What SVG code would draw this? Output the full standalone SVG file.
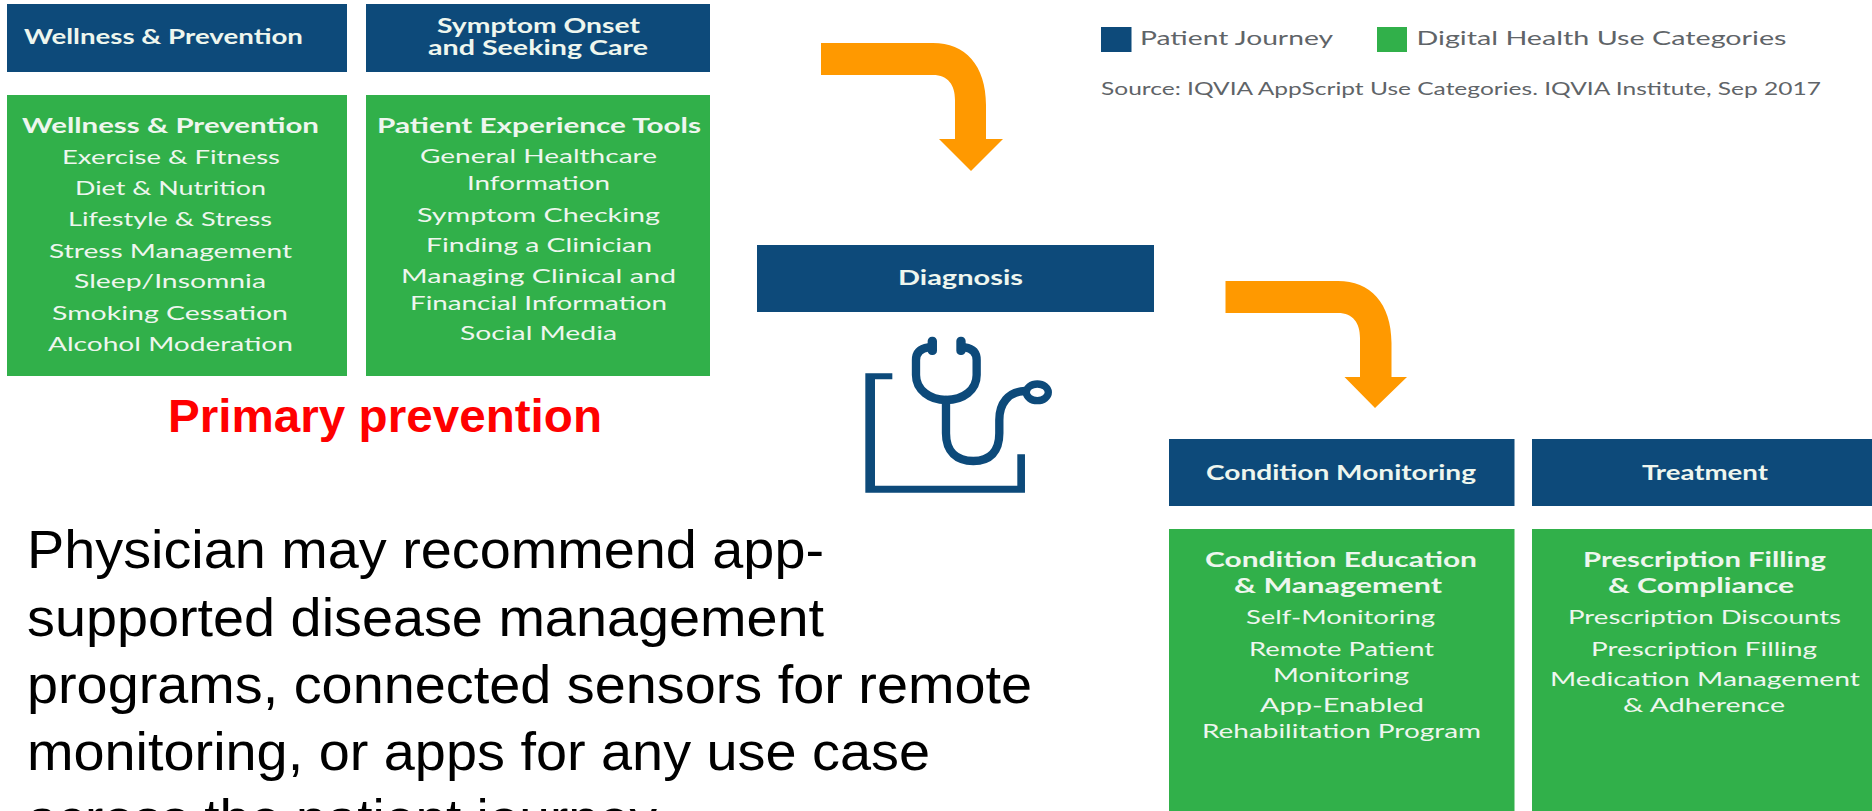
<svg xmlns="http://www.w3.org/2000/svg" width="1872" height="811" viewBox="0 0 1872 811">
<style>
.navy{fill:#0d4a7a}
.green{fill:#31b04a}
text{font-family:Lato,"Liberation Sans",sans-serif;fill:#eef6ee}
.h{font-weight:700;font-size:20.500px}
.b{font-size:20px;font-weight:400}
.leg{font-size:20px;fill:#5f6468}
.src{font-size:17px;fill:#5f6468}
.ar{font-family:"Liberation Sans",Arial,sans-serif}
.red{font-weight:700;font-size:47px;fill:#ff0000}
.para{font-size:54px;fill:#000}
.arrow{fill:#ff9900}
.st{fill:none;stroke:#0d4a7a;stroke-width:25;stroke-linecap:round}
</style>
<rect width="1872" height="811" fill="#fff"/>
<g id="connectors">
<path class="arrow" d="M821 43H933C965 43 986 65 986 105V139H1003L971 171L939 139H955V100C955 85 948 75 933 75H821Z"/>
<path class="arrow" d="M1225.500 281H1338C1370 281 1391.500 303 1391.500 343V377H1407L1375 408L1344.500 377H1360V338C1360 323 1353 313 1338 313H1225.500Z"/>
</g>
<g id="node-wellness-header">
<rect class="navy" x="7" y="4" width="340" height="68"/>
<text class="h" x="24" y="44" textLength="279" lengthAdjust="spacingAndGlyphs">Wellness &amp; Prevention</text>
</g>
<g id="node-symptom-header">
<rect class="navy" x="366" y="4" width="344" height="68"/>
<text class="h" x="437" y="33" textLength="203" lengthAdjust="spacingAndGlyphs">Symptom Onset</text>
<text class="h" x="428" y="55" textLength="220" lengthAdjust="spacingAndGlyphs">and Seeking Care</text>
</g>
<g id="node-wellness-tools">
<rect class="green" x="7" y="95" width="340" height="281"/>
<text class="h" x="22" y="133" textLength="297" lengthAdjust="spacingAndGlyphs">Wellness &amp; Prevention</text>
<text class="b" x="62" y="164" textLength="218" lengthAdjust="spacingAndGlyphs">Exercise &amp; Fitness</text>
<text class="b" x="75" y="195" textLength="191" lengthAdjust="spacingAndGlyphs">Diet &amp; Nutrition</text>
<text class="b" x="68" y="226" textLength="204" lengthAdjust="spacingAndGlyphs">Lifestyle &amp; Stress</text>
<text class="b" x="49" y="258" textLength="243" lengthAdjust="spacingAndGlyphs">Stress Management</text>
<text class="b" x="74" y="288" textLength="192" lengthAdjust="spacingAndGlyphs">Sleep/Insomnia</text>
<text class="b" x="52" y="320" textLength="236" lengthAdjust="spacingAndGlyphs">Smoking Cessation</text>
<text class="b" x="48" y="351" textLength="245" lengthAdjust="spacingAndGlyphs">Alcohol Moderation</text>
</g>
<g id="node-patient-tools">
<rect class="green" x="366" y="95" width="344" height="281"/>
<text class="h" x="377" y="133" textLength="324" lengthAdjust="spacingAndGlyphs">Patient Experience Tools</text>
<text class="b" x="420" y="163" textLength="237" lengthAdjust="spacingAndGlyphs">General Healthcare</text>
<text class="b" x="467" y="190" textLength="143" lengthAdjust="spacingAndGlyphs">Information</text>
<text class="b" x="417" y="222" textLength="243" lengthAdjust="spacingAndGlyphs">Symptom Checking</text>
<text class="b" x="426" y="252" textLength="226" lengthAdjust="spacingAndGlyphs">Finding a Clinician</text>
<text class="b" x="401" y="283" textLength="275" lengthAdjust="spacingAndGlyphs">Managing Clinical and</text>
<text class="b" x="410" y="310" textLength="257" lengthAdjust="spacingAndGlyphs">Financial Information</text>
<text class="b" x="460" y="340" textLength="157" lengthAdjust="spacingAndGlyphs">Social Media</text>
</g>
<g id="label-primary">
<text class="ar red" x="168" y="432" textLength="434" lengthAdjust="spacingAndGlyphs">Primary prevention</text>
</g>
<g id="label-paragraph">
<text class="ar para" x="27" y="568" textLength="797" lengthAdjust="spacingAndGlyphs">Physician may recommend app-</text>
<text class="ar para" x="27" y="636" textLength="797" lengthAdjust="spacingAndGlyphs">supported disease management</text>
<text class="ar para" x="27" y="703" textLength="1005" lengthAdjust="spacingAndGlyphs">programs, connected sensors for remote</text>
<text class="ar para" x="27" y="770" textLength="903" lengthAdjust="spacingAndGlyphs">monitoring, or apps for any use case</text>
<text class="ar para" x="27" y="837" textLength="630" lengthAdjust="spacingAndGlyphs">across the patient journey</text>
</g>
<g id="node-diagnosis">
<rect class="navy" x="757" y="245" width="397" height="67"/>
<text class="h" x="898" y="285" textLength="125" lengthAdjust="spacingAndGlyphs">Diagnosis</text>
</g>
<g id="icon-stethoscope" transform="translate(840 320) scale(.3333)">
<path fill="#0d4a7a" d="M76 160H157V178H105V497H532V403H555V518H76Z"/>
<path class="st" d="M265 82C245 85 228 95 228 120V165C228 210 270 240 318 240C370 240 410 210 410 165V120C410 95 395 85 375 82"/>
<path class="st" d="M318 240V340C318 395 350 423 400 423C450 423 478 395 478 340V300C478 250 505 215 555 213"/>
<ellipse cx="592" cy="217" rx="33" ry="25" fill="none" stroke="#0d4a7a" stroke-width="22"/>
<rect x="263" y="50" width="28" height="55" rx="13" fill="#0d4a7a"/>
<rect x="349" y="50" width="28" height="55" rx="13" fill="#0d4a7a"/>
</g>
<g id="legend">
<rect class="navy" x="1101" y="27" width="30.500" height="25"/>
<text class="leg" x="1140" y="45" textLength="193" lengthAdjust="spacingAndGlyphs">Patient Journey</text>
<rect class="green" x="1377" y="27" width="30" height="25"/>
<text class="leg" x="1416.500" y="45" textLength="370" lengthAdjust="spacingAndGlyphs">Digital Health Use Categories</text>
<text class="src" x="1101" y="95" textLength="720" lengthAdjust="spacingAndGlyphs">Source: IQVIA AppScript Use Categories. IQVIA Institute, Sep 2017</text>
</g>
<g id="node-condition-header">
<rect class="navy" x="1169" y="439" width="345.500" height="67"/>
<text class="h" x="1206" y="480" textLength="270" lengthAdjust="spacingAndGlyphs">Condition Monitoring</text>
</g>
<g id="node-treatment-header">
<rect class="navy" x="1532" y="439" width="340" height="67"/>
<text class="h" x="1642" y="480" textLength="126" lengthAdjust="spacingAndGlyphs">Treatment</text>
</g>
<g id="node-condition-tools">
<rect class="green" x="1169" y="529" width="345.500" height="282"/>
<text class="h" x="1205" y="567" textLength="272" lengthAdjust="spacingAndGlyphs">Condition Education</text>
<text class="h" x="1234" y="593" textLength="208" lengthAdjust="spacingAndGlyphs">&amp; Management</text>
<text class="b" x="1246" y="624" textLength="189" lengthAdjust="spacingAndGlyphs">Self-Monitoring</text>
<text class="b" x="1249" y="656" textLength="185" lengthAdjust="spacingAndGlyphs">Remote Patient</text>
<text class="b" x="1273" y="682" textLength="136" lengthAdjust="spacingAndGlyphs">Monitoring</text>
<text class="b" x="1260" y="712" textLength="164" lengthAdjust="spacingAndGlyphs">App-Enabled</text>
<text class="b" x="1202" y="738" textLength="279" lengthAdjust="spacingAndGlyphs">Rehabilitation Program</text>
</g>
<g id="node-treatment-tools">
<rect class="green" x="1532" y="529" width="340" height="282"/>
<text class="h" x="1583" y="567" textLength="243" lengthAdjust="spacingAndGlyphs">Prescription Filling</text>
<text class="h" x="1608" y="593" textLength="186" lengthAdjust="spacingAndGlyphs">&amp; Compliance</text>
<text class="b" x="1568" y="624" textLength="273" lengthAdjust="spacingAndGlyphs">Prescription Discounts</text>
<text class="b" x="1591" y="656" textLength="226" lengthAdjust="spacingAndGlyphs">Prescription Filling</text>
<text class="b" x="1550" y="686" textLength="310" lengthAdjust="spacingAndGlyphs">Medication Management</text>
<text class="b" x="1623" y="712" textLength="162" lengthAdjust="spacingAndGlyphs">&amp; Adherence</text>
</g>
</svg>
